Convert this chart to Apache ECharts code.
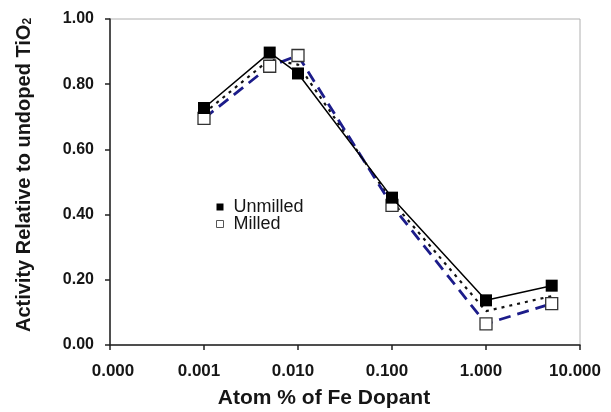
<!DOCTYPE html>
<html><head><meta charset="utf-8">
<script src="https://cdn.jsdelivr.net/npm/echarts@6/dist/echarts.min.js"></script>
<style>html,body{margin:0;padding:0;background:#fff}#c{width:611px;height:412px}</style>
</head><body><div id="c"></div>
<script>
var dopant = [0.001, 0.005, 0.01, 0.1, 1, 5];
var unmilled = [0.727, 0.897, 0.833, 0.452, 0.137, 0.182];
var milled = [0.695, 0.855, 0.888, 0.428, 0.065, 0.127];
var average = [0.711, 0.876, 0.860, 0.440, 0.104, 0.150];
var xTicks = ['0.000','0.001','0.010','0.100','1.000','10.000'];
var yTicks = ['0.00','0.20','0.40','0.60','0.80','1.00'];

function pairs(ys){ return dopant.map(function(x,i){return [x, ys[i]];}); }
var font = 'Liberation Sans, Arial, sans-serif';
var txt = '#161616';
var chart = echarts.init(document.getElementById('c'));
chart.setOption({
  animation: false,
  grid: {left: 110, right: 31, top: 19, bottom: 67, show: true, borderColor: '#b0b0b0', borderWidth: 1,
    containLabel: false, outerBoundsMode: 'none'},
  legend: {
    orient: 'vertical', left: 211, top: 193, itemWidth: 7, itemHeight: 7, itemGap: -1,
    textStyle: {fontFamily: font, fontSize: 18, color: txt, lineHeight: 17, padding: [0,0,0,5]},
    data: [
      {name: 'Unmilled', icon: 'rect', itemStyle: {color: '#000', borderColor: '#000', borderWidth: 0}},
      {name: 'Milled', icon: 'rect', itemStyle: {color: '#fff', borderColor: '#555', borderWidth: 1}}
    ]
  },
  xAxis: {
    type: 'log', logBase: 10, min: 0.0001, max: 10,
    name: 'Atom % of Fe Dopant', nameLocation: 'middle', nameGap: 43,
    nameTextStyle: {fontFamily: font, fontSize: 21, fontWeight: 'bold', color: txt, padding: [0, 42, 0, 0]},
    axisLine: {lineStyle: {color: '#222', width: 1.5}},
    axisTick: {show: true, inside: false, length: 5, lineStyle: {color: '#222', width: 1.5}},
    axisLabel: {fontFamily: font, fontSize: 17, fontWeight: 'bold', color: txt, margin: 18,
      formatter: function(v){ var i = Math.round(Math.log10(v)) + 4; return i === 0 ? '{f|' + xTicks[i] + '}' : '{o|' + xTicks[i] + '}'; },
      rich: {
        f: {fontFamily: font, fontSize: 17, fontWeight: 'bold', color: txt, padding: [0, 0, 0, 6]},
        o: {fontFamily: font, fontSize: 17, fontWeight: 'bold', color: txt, padding: [0, 10, 0, 0]}
      }},
    splitLine: {show: false}, minorTick: {show: false}
  },
  yAxis: {
    type: 'value', min: 0, max: 1, interval: 0.2,
    name: 'Activity Relative to undoped TiO{sub|2}', nameLocation: 'middle', nameGap: 76,
    nameTextStyle: {fontFamily: font, fontSize: 20, fontWeight: 'bold', color: txt, padding: [0, 0, 0, 14],
      rich: {sub: {fontFamily: font, fontSize: 12, fontWeight: 'bold', color: txt, verticalAlign: 'bottom', padding: [8,0,0,0]}}},
    axisLine: {show: true, lineStyle: {color: '#222', width: 1.5}},
    axisTick: {show: true, inside: false, length: 5, lineStyle: {color: '#222', width: 1.5}},
    axisLabel: {fontFamily: font, fontSize: 16, fontWeight: 'bold', color: txt, margin: 16,
      formatter: function(v){ return yTicks[Math.round(v*5)]; }},
    splitLine: {show: false}
  },
  series: [
    {name: 'Average', type: 'line', data: pairs(average), symbol: 'none',
      lineStyle: {color: '#111', width: 2.2, type: [3, 5]}, z: 2},
    {name: 'Milled', type: 'line', data: pairs(milled), symbol: 'rect', symbolSize: 12,
      itemStyle: {color: '#fff', borderColor: '#333', borderWidth: 1.3},
      lineStyle: {color: '#1c1c8a', width: 2.8, type: [12, 7]}, z: 3},
    {name: 'Unmilled', type: 'line', data: pairs(unmilled), symbol: 'rect', symbolSize: 12,
      itemStyle: {color: '#000', borderColor: '#000', borderWidth: 0},
      lineStyle: {color: '#000', width: 1.5}, z: 4}
  ]
});
</script></body></html>
